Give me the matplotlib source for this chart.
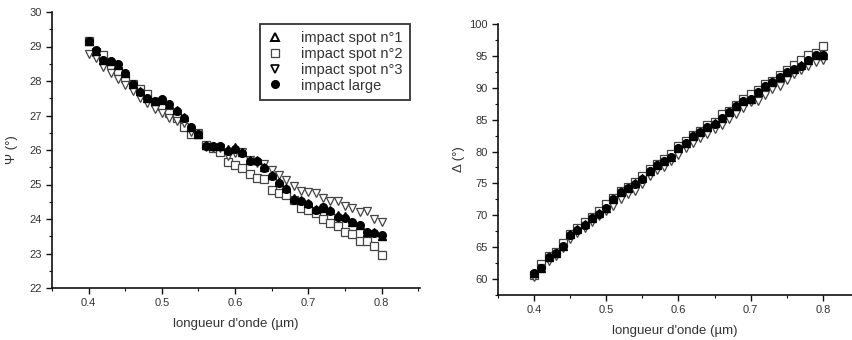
import matplotlib
matplotlib.use("Agg")
import matplotlib.pyplot as plt
from matplotlib.ticker import MultipleLocator
from matplotlib.lines import Line2D

plt.rcParams['font.family'] = ['Liberation Sans', 'DejaVu Sans']

wavelength = [0.40, 0.41, 0.42, 0.43, 0.44, 0.45, 0.46, 0.47, 0.48, 0.49,
              0.50, 0.51, 0.52, 0.53, 0.54, 0.55, 0.56, 0.57, 0.58, 0.59,
              0.60, 0.61, 0.62, 0.63, 0.64, 0.65, 0.66, 0.67, 0.68, 0.69,
              0.70, 0.71, 0.72, 0.73, 0.74, 0.75, 0.76, 0.77, 0.78, 0.79, 0.80]

# Psi (deg)
psi_spot1 = [29.15, 28.88, 28.62, 28.58, 28.47, 28.22, 27.92, 27.70, 27.52, 27.42,
             27.46, 27.33, 27.15, 26.95, 26.66, 26.47, 26.14, 26.12, 26.11, 26.02,
             26.10, 25.94, 25.72, 25.70, 25.50, 25.27, 25.06, 24.91, 24.62, 24.55,
             24.45, 24.28, 24.33, 24.26, 24.11, 24.08, 23.92, 23.83, 23.63, 23.61, 23.51]
psi_spot2 = [29.15, 28.85, 28.75, 28.46, 28.30, 28.08, 27.92, 27.77, 27.62, 27.40,
             27.28, 27.06, 26.92, 26.68, 26.45, 26.45, 26.14, 26.05, 25.93, 25.65,
             25.57, 25.48, 25.29, 25.20, 25.17, 24.84, 24.76, 24.70, 24.55, 24.33,
             24.25, 24.18, 24.01, 23.89, 23.80, 23.61, 23.56, 23.35, 23.35, 23.22, 22.95]
psi_spot3 = [28.77, 28.68, 28.42, 28.24, 28.06, 27.88, 27.72, 27.50, 27.35, 27.19,
             27.08, 26.92, 26.85, 26.77, 26.53, 26.50, 26.10, 26.05, 26.05, 25.83,
             25.90, 25.93, 25.71, 25.63, 25.59, 25.42, 25.28, 25.13, 24.97, 24.81,
             24.77, 24.76, 24.60, 24.52, 24.52, 24.38, 24.31, 24.20, 24.22, 24.01, 23.91]
psi_large = [29.17, 28.90, 28.61, 28.58, 28.48, 28.24, 27.91, 27.69, 27.52, 27.41,
             27.47, 27.33, 27.14, 26.94, 26.66, 26.46, 26.13, 26.12, 26.12, 25.98,
             26.02, 25.92, 25.67, 25.69, 25.47, 25.25, 25.03, 24.87, 24.55, 24.52,
             24.43, 24.26, 24.34, 24.22, 24.05, 24.02, 23.91, 23.82, 23.61, 23.60, 23.55]

# Delta (deg)
delta_spot1 = [61.0, 61.8, 63.5, 64.1, 65.2, 67.0, 67.8, 68.6, 69.6, 70.3,
               71.2, 72.6, 73.7, 74.3, 75.0, 75.8, 77.0, 77.9, 78.5, 79.1,
               80.5, 81.4, 82.4, 83.0, 83.8, 84.4, 85.3, 86.2, 87.1, 88.0,
               88.3, 89.4, 90.3, 90.9, 91.7, 92.5, 93.0, 93.5, 94.4, 95.2, 95.2]
delta_spot2 = [60.7, 62.35, 63.6, 64.3, 65.65, 67.1, 68.0, 68.9, 69.8, 70.6,
               71.8, 72.7, 73.8, 74.5, 75.16, 76.2, 77.2, 78.1, 78.8, 79.66,
               80.8, 81.6, 82.6, 83.2, 84.1, 84.63, 85.88, 86.4, 87.3, 88.3,
               89.07, 89.6, 90.64, 91.1, 92.05, 92.84, 93.52, 94.41, 95.08, 95.45, 96.5]
delta_spot3 = [60.4, 61.7, 62.77, 63.66, 64.86, 66.27, 67.22, 68.0, 68.89, 69.93,
               70.72, 71.5, 72.6, 73.39, 73.86, 74.9, 76.1, 77.05, 77.57, 78.46,
               79.5, 80.5, 81.33, 82.12, 82.8, 83.53, 84.16, 85.1, 85.93, 86.82,
               87.71, 87.97, 88.92, 89.8, 90.33, 91.27, 92.21, 92.73, 93.46, 94.09, 94.41]
delta_large = [60.94, 61.73, 63.45, 64.08, 65.12, 66.95, 67.74, 68.52, 69.57, 70.2,
               71.14, 72.55, 73.59, 74.27, 74.9, 75.74, 76.99, 77.83, 78.46, 79.08,
               80.5, 81.33, 82.38, 83.01, 83.79, 84.37, 85.25, 86.14, 87.08, 87.97,
               88.29, 89.39, 90.33, 90.85, 91.69, 92.47, 92.94, 93.46, 94.41, 95.19, 95.19]

legend_labels = ["impact spot n°1", "impact spot n°2", "impact spot n°3", "impact large"]
x_ticks = [0.4, 0.5, 0.6, 0.7, 0.8]
x_tick_labels = ['0.4', '0.5', '0.6', '0.7', '0.8']
delta_ticks = [60, 65, 70, 75, 80, 85, 90, 95, 100]

fig = plt.figure(figsize=(8.52, 3.4), dpi=100)
ax1 = fig.add_axes([52/852, 1-288/340, (420-52)/852, (288-12)/340])
ax2 = fig.add_axes([498/852, 1-295/340, (852-498)/852, (295-24)/340])

tick_color = '#333333'
edge_grey = '#444444'
ms = 5.5

def style(ax):
    for s in ['top', 'right']:
        ax.spines[s].set_visible(False)
    for s in ['left', 'bottom']:
        ax.spines[s].set_linewidth(1.2)
        ax.spines[s].set_color('#111111')
    ax.tick_params(which='major', direction='out', length=4, width=1.0,
                   labelsize=8, labelcolor=tick_color, color='#111111')
    ax.tick_params(which='minor', direction='out', length=2.5, width=0.8, color='#111111')

def draw(ax, s1, s2, s3, sl):
    ax.plot(wavelength, s1, linestyle='none', marker='^', ms=ms, mfc='black', mec='black', zorder=3)
    ax.plot(wavelength, s2, linestyle='none', marker='s', ms=ms, mfc='white', mec=edge_grey, mew=0.9, zorder=2)
    ax.plot(wavelength, s3, linestyle='none', marker='v', ms=ms+0.5, mfc='white', mec=edge_grey, mew=0.9, zorder=2)
    ax.plot(wavelength, sl, linestyle='none', marker='o', ms=ms, mfc='black', mec='black', zorder=4)

# Left panel: Psi
draw(ax1, psi_spot1, psi_spot2, psi_spot3, psi_large)
style(ax1)
ax1.set_xlim(0.35, 0.8524)
ax1.set_ylim(22, 30)
ax1.xaxis.set_minor_locator(MultipleLocator(0.05))
ax1.yaxis.set_major_locator(MultipleLocator(1))
ax1.yaxis.set_minor_locator(MultipleLocator(0.5))
ax1.set_xticks(x_ticks)
ax1.set_xticklabels(x_tick_labels)
ax1.set_xlabel("longueur d'onde (µm)", fontsize=9.5, color='#333333', labelpad=7)
ax1.set_ylabel("Ψ (°)", fontsize=9.5, color='#333333', labelpad=8)

handles = [
    Line2D([], [], linestyle='none', marker='^', ms=ms, mfc='white', mec='black', mew=1.4),
    Line2D([], [], linestyle='none', marker='s', ms=ms, mfc='white', mec=edge_grey, mew=0.9),
    Line2D([], [], linestyle='none', marker='v', ms=ms+0.5, mfc='white', mec='black', mew=1.2),
    Line2D([], [], linestyle='none', marker='o', ms=ms, mfc='black', mec='black'),
]
leg = ax1.legend(handles, legend_labels, loc='upper right', bbox_to_anchor=(410/852, 1-24/340),
                 bbox_transform=fig.transFigure, fontsize=10.5, frameon=True, fancybox=False,
                 edgecolor='black', handlelength=1.0, handletextpad=1.3, borderpad=0.5,
                 labelspacing=0.12, borderaxespad=0)
leg.get_frame().set_linewidth(1.3)
for t in leg.get_texts():
    t.set_color('#333333')

# Right panel: Delta
draw(ax2, delta_spot1, delta_spot2, delta_spot3, delta_large)
style(ax2)
ax2.set_xlim(0.35, 0.8404)
ax2.set_ylim(57.5, 100)
ax2.xaxis.set_minor_locator(MultipleLocator(0.05))
ax2.set_xticks(x_ticks)
ax2.set_xticklabels(x_tick_labels)
ax2.set_yticks(delta_ticks)
ax2.yaxis.set_minor_locator(MultipleLocator(2.5))
ax2.set_xlabel("longueur d'onde (µm)", fontsize=9.5, color='#333333', labelpad=7)
ax2.set_ylabel("Δ (°)", fontsize=9.5, color='#333333', labelpad=3)

fig.savefig("out.png", dpi=100)
